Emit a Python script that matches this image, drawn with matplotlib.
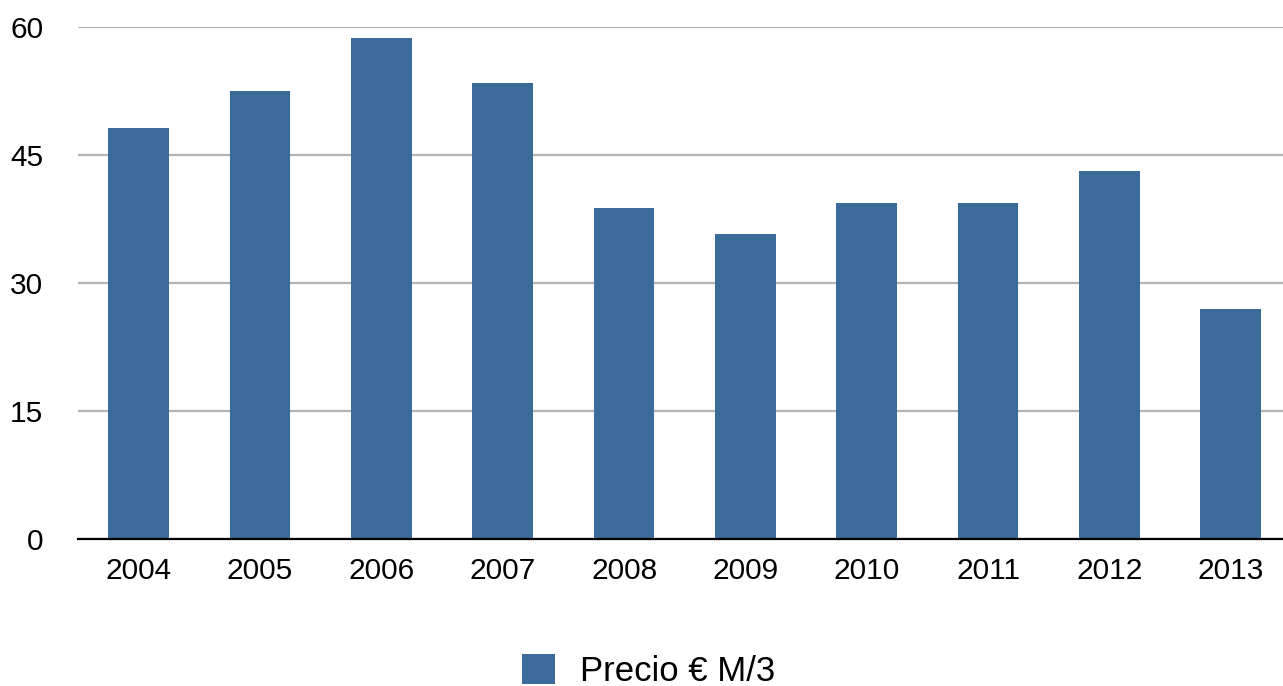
import matplotlib.pyplot as plt

years = ["2004", "2005", "2006", "2007", "2008", "2009", "2010", "2011", "2012", "2013"]
precio = [48.2, 52.5, 58.7, 53.4, 38.8, 35.7, 39.4, 39.4, 43.1, 27.0]

BAR_COLOR = "#3C6A9B"

plt.rcParams["font.family"] = ["Liberation Sans", "DejaVu Sans"]

fig = plt.figure(figsize=(12.83, 6.86), dpi=100)
ax = fig.add_axes([78 / 1283, 147 / 686, 1 - 78 / 1283, (539 - 27) / 686])

x = range(len(years))
ax.bar(x, precio, width=0.5, color=BAR_COLOR, label="Precio € M/3", zorder=3)

ax.set_ylim(0, 60)
ax.set_yticks([0, 15, 30, 45, 60])
ax.set_xlim(-0.5, 9.43)
ax.set_xticks(list(x))
ax.set_xticklabels(years)

ax.yaxis.grid(True, color="#b4b4b4", linewidth=1.6, zorder=0)
ax.set_axisbelow(True)
for side in ["top", "right", "left"]:
    ax.spines[side].set_visible(False)
ax.spines["bottom"].set_color("black")
ax.spines["bottom"].set_linewidth(1.6)
ax.spines["bottom"].set_zorder(4)

ax.tick_params(axis="y", length=0, pad=25, labelsize=21.5)
ax.tick_params(axis="x", length=0, pad=13, labelsize=21.5)

fig.legend(loc="center", bbox_to_anchor=(0.5055, 0.022), frameon=False,
           fontsize=25, handlelength=0.95, handleheight=0.95, handletextpad=0.72)

fig.savefig("out.png", dpi=100)
